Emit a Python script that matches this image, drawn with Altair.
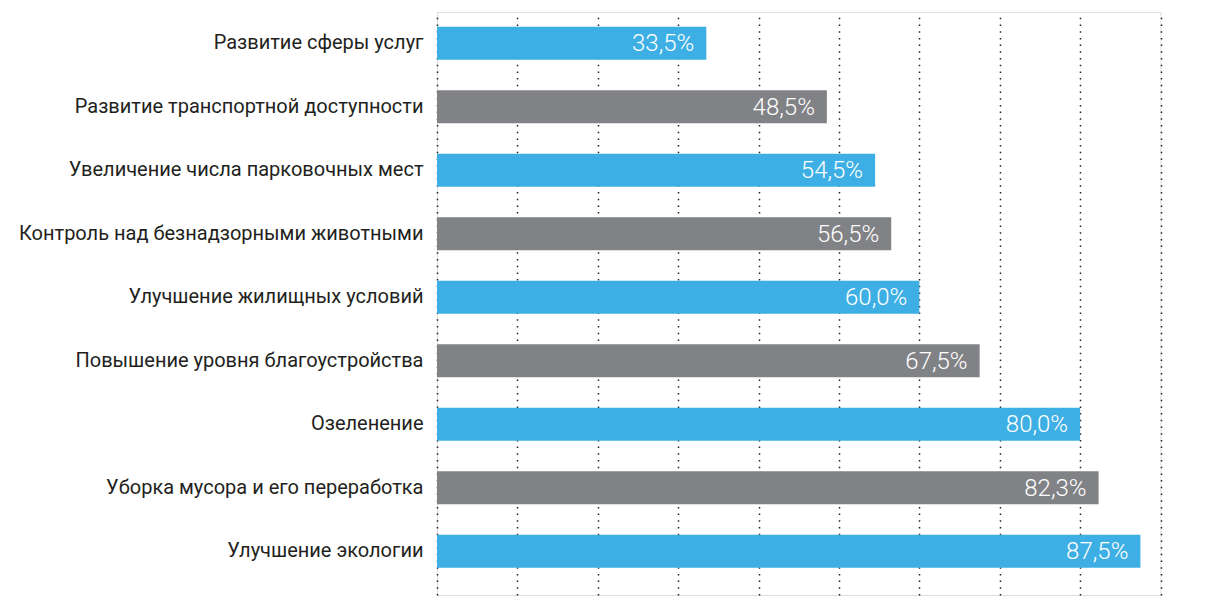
import altair as alt
import pandas as pd

categories = [
    "Развитие сферы услуг",
    "Развитие транспортной доступности",
    "Увеличение числа парковочных мест",
    "Контроль над безнадзорными животными",
    "Улучшение жилищных условий",
    "Повышение уровня благоустройства",
    "Озеленение",
    "Уборка мусора и его переработка",
    "Улучшение экологии",
]
values = [33.5, 48.5, 54.5, 56.5, 60.0, 67.5, 80.0, 82.3, 87.5]
groups = ["blue", "gray", "blue", "gray", "blue", "gray", "blue", "gray", "blue"]
grid_ticks = [0, 10, 20, 30, 40, 50, 60, 70, 80, 90]

df = pd.DataFrame({
    "cat": categories,
    "val": values,
    "grp": groups,
    "label": [f"{v:.1f}%".replace(".", ",") for v in values],
})

FONT = "Roboto"

x_scale = alt.Scale(domain=[0, 90], nice=False, zero=True)
y_scale = alt.Scale(domain=categories, paddingInner=0.48, paddingOuter=0.33, align=0.35)

base = alt.Chart(df).encode(
    y=alt.Y("cat:N", sort=categories, scale=y_scale,
            axis=alt.Axis(title=None, domain=False, ticks=False, grid=False,
                          labelFont=FONT, labelFontSize=20, labelColor="#231f20",
                          labelPadding=14, labelLimit=500)),
)

bars = base.mark_bar(size=33).encode(
    x=alt.X("val:Q", scale=x_scale,
            axis=alt.Axis(title=None, values=grid_ticks, labels=False, ticks=False,
                          domain=False, grid=True, gridColor="#222222",
                          gridDash=[1.5, 5.2], gridWidth=1.5, gridOpacity=1)),
    color=alt.Color("grp:N", scale=alt.Scale(domain=["blue", "gray"],
                                             range=["#3eafe4", "#818286"]), legend=None),
)

texts = base.mark_text(align="right", baseline="middle", dx=-12, dy=1,
                       font=FONT, fontSize=24, fontWeight=300, color="white").encode(
    x=alt.X("val:Q", scale=x_scale),
    text="label:N",
)

chart = (bars + texts).properties(
    width=723.5, height=583,
    autosize=alt.AutoSizeParams(type="none"),
    padding={"left": 429, "top": 4, "right": 50, "bottom": 8},
).configure_view(stroke=None).configure(background="white")

chart.save("out.html", embed_options={"renderer": "svg", "actions": False})
